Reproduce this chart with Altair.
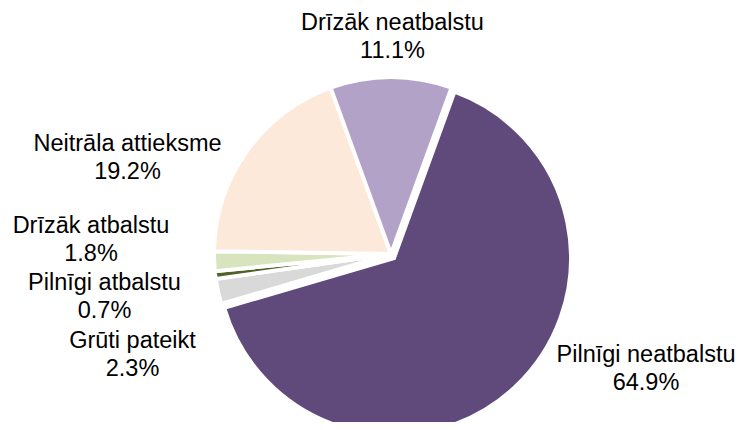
import math
import altair as alt
import pandas as pd

# Data (in clockwise drawing order, starting right of 12 o'clock)
categories = ["Pilnīgi neatbalstu", "Grūti pateikt", "Pilnīgi atbalstu",
              "Drīzāk atbalstu", "Neitrāla attieksme", "Drīzāk neatbalstu"]
values = [64.9, 2.3, 0.7, 1.8, 19.2, 11.1]
pct_labels = ["64.9%", "2.3%", "0.7%", "1.8%", "19.2%", "11.1%"]
colors = ["#604a7b", "#d9d9d9", "#4f6228", "#d7e4bd", "#fde9d9", "#b3a2c7"]

df = pd.DataFrame({
    "cat": categories,
    "val": values,
    "ord": list(range(len(categories))),
    "txt": [f"{c}\n{p}" for c, p in zip(categories, pct_labels)],
})

# layout (chart coordinates; page margin of 8px already removed)
CX, CY, R = 383, 246, 177
start = math.radians(20)
# first-line baseline positions of the labels
label_pos = {
    "Drīzāk neatbalstu": (384.5, 22),
    "Neitrāla attieksme": (119.5, 143),
    "Drīzāk atbalstu": (83, 225),
    "Pilnīgi atbalstu": (96.5, 282),
    "Grūti pateikt": (124.5, 340),
    "Pilnīgi neatbalstu": (638, 354),
}
explode = {"Pilnīgi neatbalstu": (3, 4)}

theta = alt.Theta("val:Q", stack=True,
                  scale=alt.Scale(range=[start, start + 2 * math.pi]))
color = alt.Color("cat:N", scale=alt.Scale(domain=categories, range=colors),
                  legend=None)

layers = []
for cat in categories:
    ox, oy = explode.get(cat, (0, 0))
    layers.append(
        alt.Chart(df).mark_arc(
            outerRadius=R, stroke="white", strokeWidth=4
        ).encode(
            theta=theta,
            color=color,
            order=alt.Order("ord:Q"),
            x=alt.value(CX + ox),
            y=alt.value(CY + oy),
            opacity=alt.condition(alt.datum.cat == cat, alt.value(1), alt.value(0)),
            strokeOpacity=alt.condition(alt.datum.cat == cat, alt.value(1), alt.value(0)),
        )
    )

for cat, (lx, ly) in label_pos.items():
    layers.append(
        alt.Chart(df).transform_filter(alt.datum.cat == cat).mark_text(
            font="Liberation Sans", fontSize=23.5, lineBreak="\n", lineHeight=28,
            align="center", baseline="alphabetic", color="#000000"
        ).encode(text="txt:N", x=alt.value(lx), y=alt.value(ly))
    )

chart = alt.layer(*layers).properties(
    width=731, height=414, padding=0,
    autosize=alt.AutoSizeParams(type="fit", contains="padding"),
).configure_view(stroke=None)

chart.save("out.html", embed_options={"renderer": "svg", "actions": False})
